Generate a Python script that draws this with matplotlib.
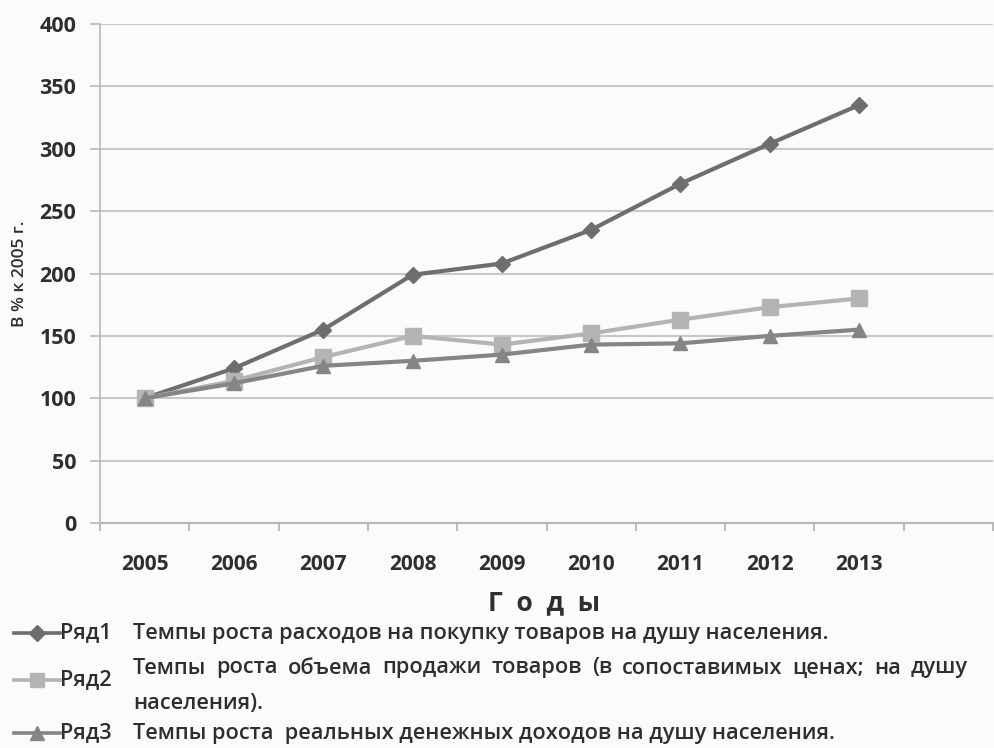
import matplotlib
matplotlib.use("Agg")
import matplotlib.pyplot as plt
from matplotlib.lines import Line2D

plt.rcParams['font.family'] = ['Open Sans', 'DejaVu Sans']

years = ['2005', '2006', '2007', '2008', '2009', '2010', '2011', '2012', '2013']
series1 = [100, 124, 155, 199, 208, 235, 272, 304, 335]
series2 = [100, 114, 133, 150, 143, 152, 163, 173, 180]
series3 = [100, 112, 126, 130, 135, 143, 144, 150, 155]
yticks = [0, 50, 100, 150, 200, 250, 300, 350, 400]
names = ['Ряд1', 'Ряд2', 'Ряд3']
descr1 = 'Темпы роста расходов на покупку товаров на душу населения.'
descr2a = 'Темпы роста объема продажи товаров (в сопоставимых ценах; на душу'
descr2b = 'населения).'
descr3 = 'Темпы роста  реальных денежных доходов на душу населения.'

colors = ['#6e6e6e', '#b4b4b4', '#858585']
markers = ['D', 's', '^']
msizes = [8.5, 11, 10.5]
tc = '#2e2e2e'

bg = '#fbfbfb'
fig = plt.figure(figsize=(9.95, 7.48), dpi=100, facecolor=bg)
ax = fig.add_axes([100/995, 1-523/748, 893/995, 499/748], facecolor=bg)

x = list(range(len(years)))
for s, c, m, ms in zip([series1, series2, series3], colors, markers, msizes):
    ax.plot(x, s, color=c, lw=3.0, marker=m, ms=ms, mec=c, mfc=c, zorder=3)
ax.set_xlim(-0.5, 9.5)
ax.set_ylim(0, 400)
ax.set_yticks(yticks)
ax.set_yticklabels([str(v) for v in yticks], fontsize=15.5, fontweight='bold', color=tc)
ax.set_xticks(x)
ax.set_xticklabels(years, fontsize=15, fontweight='bold', color=tc)
ax.set_xticks([i - 0.5 for i in range(11)], minor=True)
ax.tick_params(axis='x', which='major', length=0, pad=22)
ax.tick_params(axis='x', which='minor', length=6, color='#b0b0b0', width=1.2)
ax.tick_params(axis='y', length=7, color='#c4c4c4', width=1.5, pad=10)
ax.yaxis.grid(True, color='#c8c8c8', lw=1.5)
ax.set_axisbelow(True)
for sp in ['top', 'right']:
    ax.spines[sp].set_visible(False)
ax.spines['left'].set_color('#b8b8b8')
ax.spines['left'].set_linewidth(1.2)
ax.spines['bottom'].set_color('#b8b8b8')
ax.spines['bottom'].set_linewidth(1.5)

fig.text(20/995, 1-274/748, 'В % к 2005 г.', rotation=90, ha='center', va='center',
         fontsize=12.5, fontweight='semibold', color=tc)
fig.text(544/995, 1-603/748, 'Г  о  д  ы', ha='center', va='center',
         fontsize=19, fontweight='bold', color=tc)

fs = 15.7
leg_y = [633, 680, 733]
for i in range(3):
    yy = 1 - leg_y[i]/748
    ln = Line2D([14/995, 60/995], [yy, yy], transform=fig.transFigure, color=colors[i], lw=2.6)
    fig.add_artist(ln)
    mk = Line2D([37/995], [yy], transform=fig.transFigure, color=colors[i], marker=markers[i],
                ms=msizes[i]*0.9, mec=colors[i], mfc=colors[i], lw=0)
    fig.add_artist(mk)
    fig.text(60/995, yy, names[i], ha='left', va='center', fontsize=fs,
             fontweight='semibold', color=tc)

fig.text(133/995, 1 - 633/748, descr1, ha='left', va='center', fontsize=fs,
         fontweight='semibold', color=tc)
fig.text(133/995, 1 - 733/748, descr3, ha='left', va='center', fontsize=fs,
         fontweight='semibold', color=tc)
fig.text(133/995, 1 - 704/748, descr2b, ha='left', va='center', fontsize=fs,
         fontweight='semibold', color=tc)

# justified first line of series 2 description
words = descr2a.split()
renderer = fig.canvas.get_renderer()
tmp = [fig.text(0, 0, w, fontsize=fs, fontweight='semibold') for w in words]
widths = [t.get_window_extent(renderer).width for t in tmp]
for t in tmp:
    t.remove()
x0, x1 = 133, 968
gap = (x1 - x0 - sum(widths)) / (len(words) - 1)
pos = x0
for w, wd in zip(words, widths):
    fig.text(pos/995, 1 - 668/748, w, ha='left', va='center', fontsize=fs,
             fontweight='semibold', color=tc)
    pos += wd + gap

fig.savefig('out.png', dpi=100, facecolor=bg)
